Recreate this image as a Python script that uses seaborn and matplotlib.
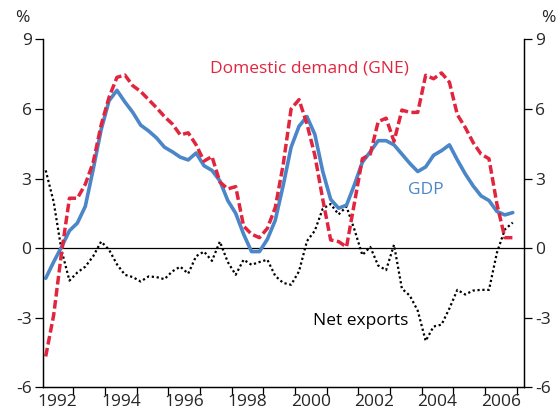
import matplotlib
matplotlib.use("Agg")
import matplotlib.pyplot as plt
from matplotlib.ticker import FixedLocator, NullFormatter
import seaborn as sns
import pandas as pd

# ---- data (year-ended growth, %, quarterly 1992Q1 - 2006Q4) ----
years = list(range(1992, 2007))
quarters = [1, 2, 3, 4]

gdp = [-1.3, -0.6, 0.05, 0.75, 1.08, 1.8, 3.4, 5.1, 6.35, 6.8,
       6.3, 5.85, 5.3, 5.05, 4.75, 4.35, 4.15, 3.92, 3.8, 4.1,
       3.55, 3.35, 2.9, 2.05, 1.5, 0.6, -0.15, -0.15, 0.38, 1.2,
       2.7, 4.35, 5.25, 5.67, 4.9, 3.3, 2.1, 1.72, 1.85, 2.73,
       3.7, 4.15, 4.63, 4.63, 4.45, 4.05, 3.65, 3.3, 3.5, 4.0,
       4.2, 4.45, 3.8, 3.2, 2.68, 2.25, 2.05, 1.58, 1.43, 1.53]

gne = [-4.67, -2.9, -0.2, 2.15, 2.15, 2.75, 3.7, 5.3, 6.5, 7.36,
       7.46, 7.0, 6.75, 6.4, 6.05, 5.67, 5.35, 4.88, 4.97, 4.45,
       3.75, 3.95, 2.85, 2.55, 2.65, 0.95, 0.6, 0.45, 0.85, 1.75,
       3.6, 6.0, 6.4, 5.35, 4.0, 2.1, 0.35, 0.28, 0.05, 1.95,
       3.85, 4.05, 5.45, 5.6, 4.6, 5.95, 5.85, 5.85, 7.45, 7.3,
       7.55, 7.15, 5.75, 5.2, 4.55, 4.05, 3.85, 1.9, 0.45, 0.45]

net_exports = [3.35, 2.0, -0.1, -1.4, -1.05, -0.8, -0.35, 0.28, -0.07, -0.7,
               -1.15, -1.25, -1.44, -1.22, -1.25, -1.34, -1.0, -0.8, -1.1, -0.35,
               -0.15, -0.55, 0.28, -0.6, -1.15, -0.5, -0.72, -0.6, -0.5, -1.2,
               -1.5, -1.58, -1.0, 0.3, 0.75, 1.7, 1.9, 1.45, 1.79, 0.8,
               -0.3, 0.05, -0.75, -0.95, 0.14, -1.75, -2.05, -2.7, -4.0, -3.38,
               -3.3, -2.6, -1.8, -2.0, -1.83, -1.8, -1.8, -0.2, 0.8, 1.1]

yticks = [-6, -3, 0, 3, 6, 9]
year_labels = ["1992", "1994", "1996", "1998", "2000", "2002", "2004", "2006"]

# x position of each quarter (mid-quarter, in years)
t = [y + (q - 0.5) / 4 for y in years for q in quarters]
df = pd.DataFrame({"t": t, "GDP": gdp, "GNE": gne, "NX": net_exports})

RED = "#E2253F"
BLUE = "#4A86C8"

sns.set_theme(style="white")
plt.rcParams["font.family"] = ["Open Sans", "DejaVu Sans"]

fig = plt.figure(figsize=(5.6, 4.16), dpi=100)
ax = fig.add_axes([42.7 / 560, 1 - 387.3 / 416, (524.3 - 42.7) / 560, (387.3 - 39.3) / 416])

ax.axhline(0, color="black", lw=0.9, zorder=1)
sns.lineplot(data=df, x="t", y="NX", ax=ax, color="black", lw=1.6,
             linestyle=(0, (1.0, 1.2)), zorder=2)
sns.lineplot(data=df, x="t", y="GDP", ax=ax, color=BLUE, lw=2.6, zorder=3)
sns.lineplot(data=df, x="t", y="GNE", ax=ax, color=RED, lw=2.5,
             linestyle=(0, (2.5, 1.0)), zorder=4)

ax.set_xlim(1992.03, 2007.24)
ax.set_ylim(-6, 9)
ax.set_xlabel("")
ax.set_ylabel("")

# x axis: ticks at year boundaries, labels at mid-year
ax.xaxis.set_major_locator(FixedLocator(list(range(1993, 2008))))
ax.xaxis.set_major_formatter(NullFormatter())
ax.xaxis.set_minor_locator(FixedLocator([int(s) + 0.5 for s in year_labels]))
ax.set_xticklabels(year_labels, minor=True)
ax.tick_params(axis="x", which="major", direction="out", length=6, width=0.9, color="black", bottom=True)
ax.tick_params(axis="x", which="minor", length=0, labelsize=12.5, pad=5, bottom=True)

ax.set_yticks(yticks)
ax.set_yticklabels([str(v) for v in yticks])
ax.tick_params(axis="y", direction="out", length=6, width=0.9, color="black",
               labelsize=12.5, pad=2, left=True)

ax2 = ax.twinx()
ax2.set_ylim(-6, 9)
ax2.set_yticks(yticks)
ax2.set_yticklabels([str(v) for v in yticks])
ax2.tick_params(axis="y", direction="out", length=6, width=0.9, color="black",
                labelsize=12.5, pad=2, right=True)

for a in (ax, ax2):
    a.spines["top"].set_visible(False)
    for side in ("left", "right", "bottom"):
        a.spines[side].set_color("black")
        a.spines[side].set_linewidth(0.9)

fig.text(22 / 560, 1 - 18 / 416, "%", ha="center", va="center", fontsize=12.5)
fig.text(548 / 560, 1 - 18 / 416, "%", ha="center", va="center", fontsize=12.5)

ax.text(2000.44, 7.76, "Domestic demand (GNE)", color=RED, ha="center", va="center", fontsize=12.5)
ax.text(2004.13, 2.51, "GDP", color=BLUE, ha="center", va="center", fontsize=12.5)
ax.text(2002.08, -3.13, "Net exports", color="black", ha="center", va="center", fontsize=12.5)

fig.savefig("out.png", dpi=100)
